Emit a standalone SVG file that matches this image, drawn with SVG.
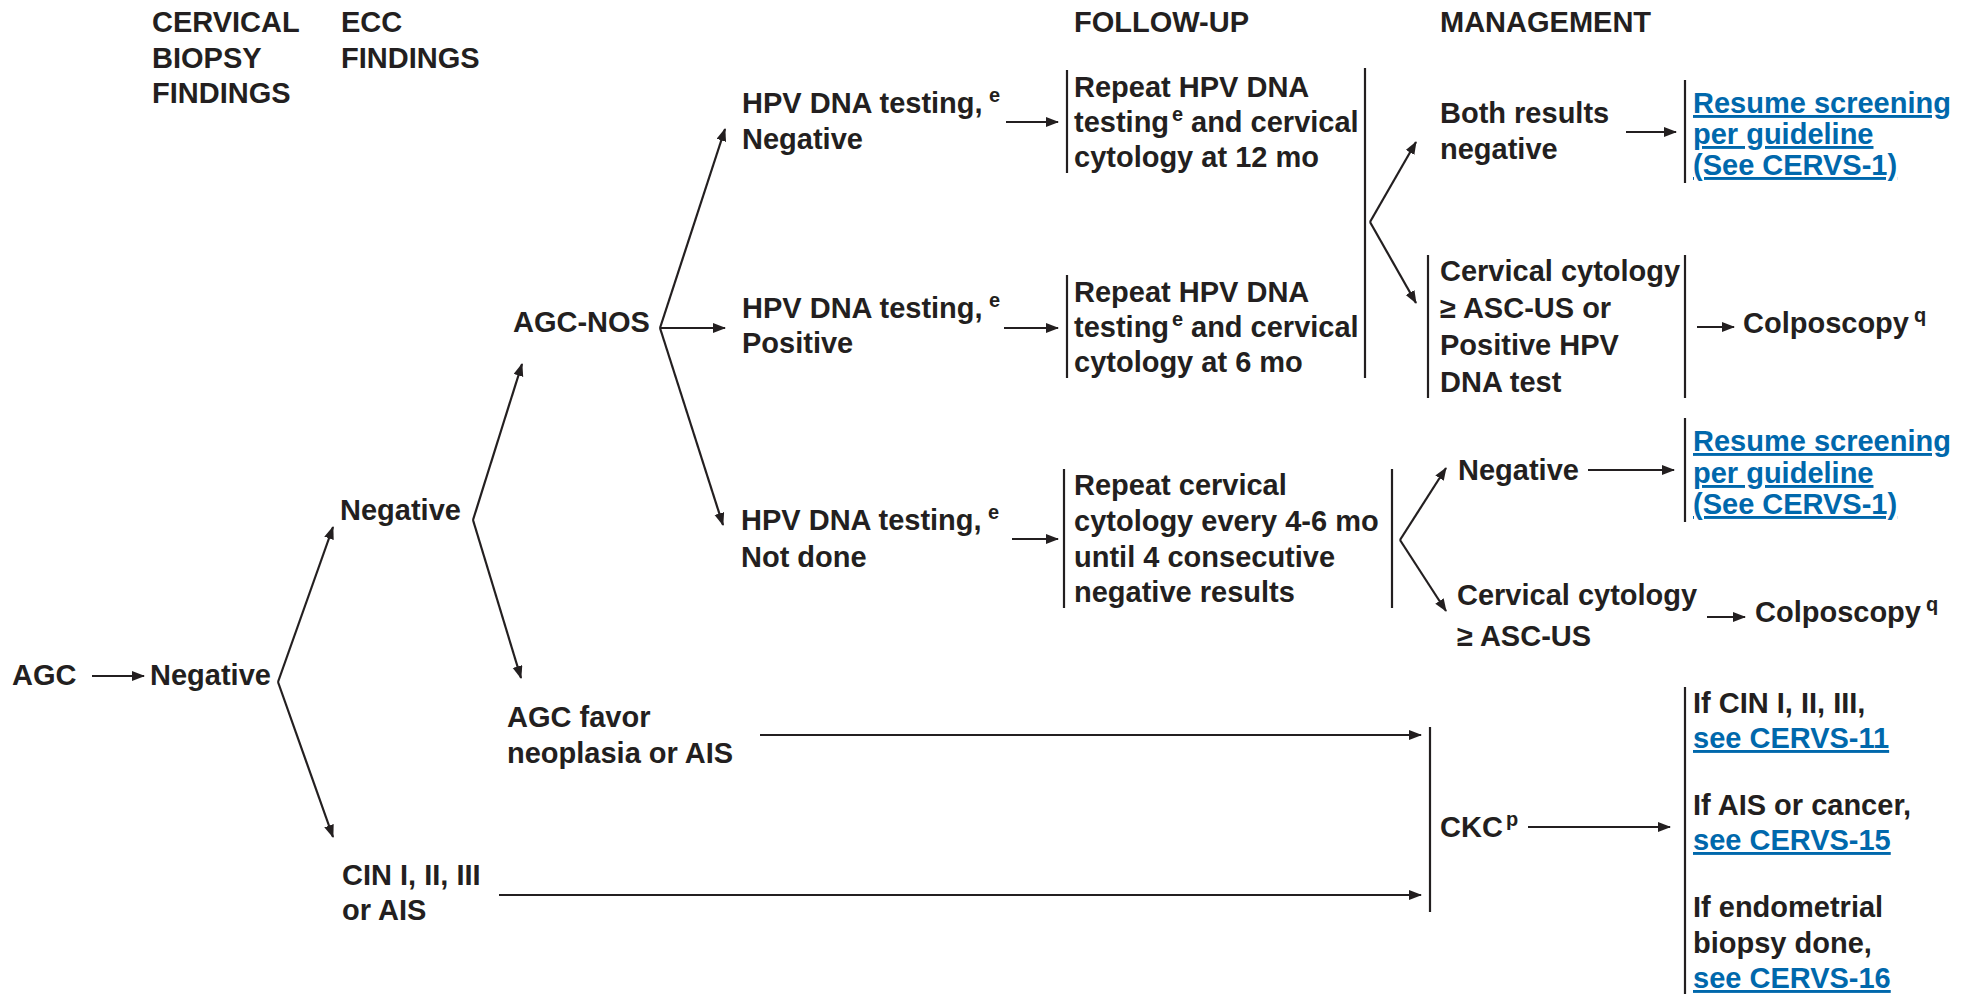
<svg xmlns="http://www.w3.org/2000/svg" width="1971" height="994" viewBox="0 0 1971 994">
<defs>
<marker id="ah" markerUnits="userSpaceOnUse" markerWidth="14" markerHeight="12" refX="12" refY="5" orient="auto">
<path d="M0,0 L13,5 L0,10 z" fill="#231f20"/>
</marker>
<style>
text{font-family:"Liberation Sans",Arial,sans-serif;font-weight:bold;font-size:29px;fill:#231f20}
.sup{font-size:20px}
.lnk{fill:#0068ac;text-decoration:underline}
.ln{stroke:#231f20;stroke-width:2.2;fill:none}
.ar{stroke:#231f20;stroke-width:2.2;fill:none;marker-end:url(#ah)}
</style>
</defs>
<rect width="1971" height="994" fill="#fff"/>

<g id="headers">
<text x="152" y="32">CERVICAL</text>
<text x="152" y="68">BIOPSY</text>
<text x="152" y="103">FINDINGS</text>
<text x="341" y="32">ECC</text>
<text x="341" y="68">FINDINGS</text>
<text x="1074" y="32">FOLLOW-UP</text>
<text x="1440" y="32">MANAGEMENT</text>
</g>

<g id="n-agc"><text x="12" y="685">AGC</text></g>
<g id="n-neg1"><text x="150" y="685">Negative</text></g>
<g id="n-neg2"><text x="340" y="520">Negative</text></g>
<g id="n-agcnos"><text x="513" y="332">AGC-NOS</text></g>
<g id="n-agcfavor"><text x="507" y="727">AGC favor</text><text x="507" y="763">neoplasia or AIS</text></g>
<g id="n-cin"><text x="342" y="885">CIN I, II, III</text><text x="342" y="920">or AIS</text></g>

<g id="n-hpvneg"><text x="742" y="113">HPV DNA testing,</text><text class="sup" x="989" y="102">e</text><text x="742" y="149">Negative</text></g>
<g id="n-hpvpos"><text x="742" y="318">HPV DNA testing,</text><text class="sup" x="989" y="307">e</text><text x="742" y="353">Positive</text></g>
<g id="n-hpvnd"><text x="741" y="530">HPV DNA testing,</text><text class="sup" x="988" y="519">e</text><text x="741" y="567">Not done</text></g>

<g id="n-fu12">
<line class="ln" x1="1067" y1="70" x2="1067" y2="173"/>
<text x="1074" y="97">Repeat HPV DNA</text>
<text x="1074" y="132">testing</text><text class="sup" x="1172" y="121">e</text><text x="1191" y="132">and cervical</text>
<text x="1074" y="167">cytology at 12 mo</text>
</g>
<g id="n-fu6">
<line class="ln" x1="1067" y1="275" x2="1067" y2="378"/>
<text x="1074" y="302">Repeat HPV DNA</text>
<text x="1074" y="337">testing</text><text class="sup" x="1172" y="326">e</text><text x="1191" y="337">and cervical</text>
<text x="1074" y="372">cytology at 6 mo</text>
</g>
<g id="n-fucyt">
<line class="ln" x1="1064" y1="469" x2="1064" y2="608"/>
<text x="1074" y="495">Repeat cervical</text>
<text x="1074" y="531">cytology every 4-6 mo</text>
<text x="1074" y="567">until 4 consecutive</text>
<text x="1074" y="602">negative results</text>
<line class="ln" x1="1392" y1="469" x2="1392" y2="608"/>
</g>
<g id="n-fubar"><line class="ln" x1="1365" y1="68" x2="1365" y2="378"/></g>

<g id="n-both"><text x="1440" y="123">Both results</text><text x="1440" y="159">negative</text></g>
<g id="n-resume1">
<line class="ln" x1="1685" y1="80" x2="1685" y2="183"/>
<text class="lnk" x="1693" y="113">Resume screening</text>
<text class="lnk" x="1693" y="144">per guideline</text>
<text class="lnk" x="1693" y="175">(See CERVS-1)</text>
</g>
<g id="n-cyt1">
<line class="ln" x1="1428" y1="255" x2="1428" y2="398"/>
<text x="1440" y="281">Cervical cytology</text>
<text x="1440" y="318">≥ ASC-US or</text>
<text x="1440" y="355">Positive HPV</text>
<text x="1440" y="392">DNA test</text>
<line class="ln" x1="1685" y1="255" x2="1685" y2="398"/>
</g>
<g id="n-colpo1"><text x="1743" y="333">Colposcopy</text><text class="sup" x="1914" y="322">q</text></g>

<g id="n-neg3"><text x="1458" y="480">Negative</text></g>
<g id="n-resume2">
<line class="ln" x1="1685" y1="418" x2="1685" y2="522"/>
<text class="lnk" x="1693" y="451">Resume screening</text>
<text class="lnk" x="1693" y="483">per guideline</text>
<text class="lnk" x="1693" y="514">(See CERVS-1)</text>
</g>
<g id="n-cyt2"><text x="1457" y="605">Cervical cytology</text><text x="1457" y="646">≥ ASC-US</text></g>
<g id="n-colpo2"><text x="1755" y="622">Colposcopy</text><text class="sup" x="1926" y="611">q</text></g>

<g id="n-ckc">
<line class="ln" x1="1430" y1="727" x2="1430" y2="912"/>
<text x="1440" y="837">CKC</text><text class="sup" x="1506" y="826">p</text>
</g>
<g id="n-mgmt">
<line class="ln" x1="1685" y1="687" x2="1685" y2="994"/>
<text x="1693" y="713">If CIN I, II, III,</text>
<text class="lnk" x="1693" y="748">see CERVS-11</text>
<text x="1693" y="815">If AIS or cancer,</text>
<text class="lnk" x="1693" y="850">see CERVS-15</text>
<text x="1693" y="917">If endometrial</text>
<text x="1693" y="953">biopsy done,</text>
<text class="lnk" x="1693" y="988">see CERVS-16</text>
</g>

<g id="connectors">
<line class="ar" x1="92" y1="676" x2="144" y2="676"/>
<line class="ar" x1="278" y1="682" x2="333" y2="527"/>
<line class="ar" x1="278" y1="682" x2="333" y2="837"/>
<line class="ar" x1="473" y1="520" x2="522" y2="364"/>
<line class="ar" x1="473" y1="520" x2="521" y2="678"/>
<line class="ar" x1="660" y1="328" x2="725" y2="129"/>
<line class="ar" x1="660" y1="328" x2="725" y2="328"/>
<line class="ar" x1="660" y1="328" x2="723" y2="525"/>
<line class="ar" x1="1006" y1="122" x2="1058" y2="122"/>
<line class="ar" x1="1004" y1="328" x2="1058" y2="328"/>
<line class="ar" x1="1012" y1="539" x2="1058" y2="539"/>
<line class="ar" x1="1370" y1="222" x2="1416" y2="142"/>
<line class="ar" x1="1370" y1="222" x2="1416" y2="303"/>
<line class="ar" x1="1626" y1="132" x2="1676" y2="132"/>
<line class="ar" x1="1697" y1="327" x2="1734" y2="327"/>
<line class="ar" x1="1400" y1="540" x2="1446" y2="468"/>
<line class="ar" x1="1400" y1="540" x2="1446" y2="611"/>
<line class="ar" x1="1588" y1="470" x2="1674" y2="470"/>
<line class="ar" x1="1707" y1="617" x2="1745" y2="617"/>
<line class="ar" x1="760" y1="735" x2="1421" y2="735"/>
<line class="ar" x1="499" y1="895" x2="1421" y2="895"/>
<line class="ar" x1="1528" y1="827" x2="1670" y2="827"/>
</g>
</svg>
